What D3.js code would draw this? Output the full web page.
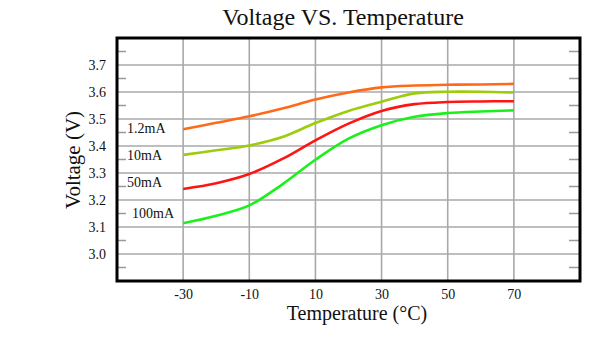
<!DOCTYPE html>
<html>
<head>
<meta charset="utf-8">
<script src="https://cdn.jsdelivr.net/npm/d3@7"></script>
<style>
  body { margin: 0; background: #fff; }
  text { font-family: "Liberation Serif", "Times New Roman", serif; fill: #111; }
</style>
</head>
<body>
<div id="chart"></div>
<script>
// data
const temps = [-30, -20, -10, 0, 10, 20, 30, 40, 50, 60, 70];
const v1_2mA = [3.462, 3.486, 3.510, 3.539, 3.572, 3.598, 3.617, 3.624, 3.627, 3.628, 3.630];
const v10mA = [3.367, 3.384, 3.402, 3.433, 3.485, 3.530, 3.564, 3.595, 3.601, 3.601, 3.598];
const v50mA = [3.241, 3.262, 3.296, 3.352, 3.421, 3.483, 3.530, 3.555, 3.563, 3.565, 3.566];
const v100mA = [3.114, 3.142, 3.180, 3.258, 3.349, 3.427, 3.477, 3.508, 3.522, 3.528, 3.532];
const seriesNames = ["1.2mA", "10mA", "50mA", "100mA"];
const labelAt = [3.45, 3.35, 3.25, 3.15];
const xTicks = [-30, -10, 10, 30, 50, 70];
const yTicks = [3.0, 3.1, 3.2, 3.3, 3.4, 3.5, 3.6, 3.7];
const yMinor = [2.95, 3.05, 3.15, 3.25, 3.35, 3.45, 3.55, 3.65, 3.75];

const colors = ["#ff6a1a", "#9ccc0c", "#ff1414", "#1af01a"];
const series = [v1_2mA, v10mA, v50mA, v100mA];

// 1: SET GLOBAL VARIABLES
const W = 606, H = 341;
const margin = { top: 38, right: 26, bottom: 60, left: 117 };
const width = W - margin.left - margin.right;
const height = H - margin.top - margin.bottom;

const svg = d3.select("#chart")
    .append("svg")
    .attr("width", W)
    .attr("height", H);

const g = svg.append("g")
    .attr("transform", `translate(${margin.left},${margin.top})`);

// scales
const x = d3.scaleLinear().domain([-50, 90]).range([0, width]);
const y = d3.scaleLinear().domain([2.9, 3.8]).range([height, 0]);

// grid lines
g.append("g")
    .selectAll("line")
    .data(xTicks)
    .enter().append("line")
    .attr("x1", d => x(d)).attr("x2", d => x(d))
    .attr("y1", 0).attr("y2", height)
    .attr("stroke", "#a9a9a9")
    .attr("stroke-width", 1.6);

g.append("g")
    .selectAll("line")
    .data(yTicks)
    .enter().append("line")
    .attr("x1", 0).attr("x2", width)
    .attr("y1", d => y(d)).attr("y2", d => y(d))
    .attr("stroke", "#a9a9a9")
    .attr("stroke-width", 1.6);

// minor ticks inside left and right frame
g.append("g")
    .selectAll("line")
    .data(yMinor)
    .enter().append("line")
    .attr("x1", 0).attr("x2", 9)
    .attr("y1", d => y(d)).attr("y2", d => y(d))
    .attr("stroke", "#999")
    .attr("stroke-width", 1.5);

g.append("g")
    .selectAll("line")
    .data(yMinor)
    .enter().append("line")
    .attr("x1", width - 11).attr("x2", width)
    .attr("y1", d => y(d)).attr("y2", d => y(d))
    .attr("stroke", "#999")
    .attr("stroke-width", 1.5);

// curves
const line = d3.line()
    .x((d, i) => x(temps[i]))
    .y(d => y(d))
    .curve(d3.curveCatmullRom.alpha(0.5));

g.selectAll(".curve")
    .data(series)
    .enter().append("path")
    .attr("class", "curve")
    .attr("fill", "none")
    .attr("stroke", (d, i) => colors[i])
    .attr("stroke-width", 2.6)
    .attr("d", line);

// frame
g.append("rect")
    .attr("x", 0).attr("y", 0)
    .attr("width", width).attr("height", height)
    .attr("fill", "none")
    .attr("stroke", "#000")
    .attr("stroke-width", 3);

// axes (labels only)
const xAxis = g.append("g")
    .attr("transform", `translate(0,${height})`)
    .call(d3.axisBottom(x).tickValues(xTicks).tickFormat(d => String(d)).tickSize(0).tickPadding(8));
xAxis.select(".domain").remove();
xAxis.selectAll("text")
    .style("font-family", "Liberation Serif, serif")
    .style("font-size", "14px")
    .attr("fill", "#111");

const yAxis = g.append("g")
    .call(d3.axisLeft(y).tickValues(yTicks).tickFormat(d3.format(".1f")).tickSize(0).tickPadding(11));
yAxis.select(".domain").remove();
yAxis.selectAll("text")
    .style("font-family", "Liberation Serif, serif")
    .style("font-size", "14px")
    .attr("fill", "#111");

// series labels
g.selectAll(".slabel")
    .data(seriesNames)
    .enter().append("text")
    .attr("class", "slabel")
    .attr("x", (d, i) => i === 3 ? 15 : 10)
    .attr("y", (d, i) => y(labelAt[i]) + (i === 3 ? 4 : 0))
    .style("font-size", "14px")
    .text(d => d);

// titles
svg.append("text")
    .attr("x", 343)
    .attr("y", 25)
    .attr("text-anchor", "middle")
    .style("font-size", "24px")
    .text("Voltage VS. Temperature");

svg.append("text")
    .attr("x", 357)
    .attr("y", 320)
    .attr("text-anchor", "middle")
    .style("font-size", "20px")
    .text("Temperature (°C)");

svg.append("text")
    .attr("transform", "rotate(-90)")
    .attr("x", -160)
    .attr("y", 80)
    .attr("text-anchor", "middle")
    .style("font-size", "21px")
    .text("Voltage (V)");
</script>
</body>
</html>
